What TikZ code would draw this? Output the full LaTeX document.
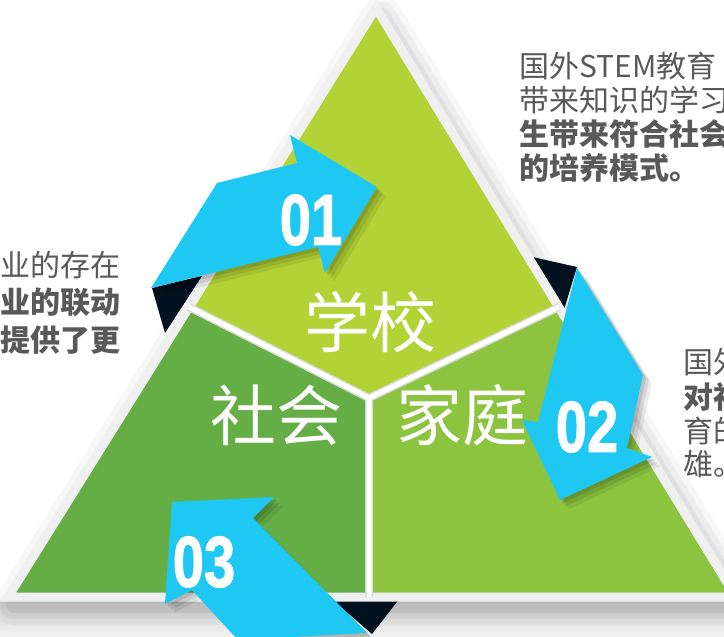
\documentclass[tikz,border=0pt]{standalone}
\usepackage{fontspec}
\setmainfont{Noto Sans CJK SC}
\newfontfamily\numfont[FakeBold=1.5]{Liberation Sans Bold}
\definecolor{topgreen}{HTML}{B2D235}
\definecolor{leftgreen}{HTML}{65AE46}
\definecolor{rightgreen}{HTML}{8CC43F}
\definecolor{arrowblue}{HTML}{1FC8F2}
\definecolor{darknavy}{HTML}{04111E}
\definecolor{textgrey}{HTML}{595959}
\begin{document}
\begin{tikzpicture}[x=1pt, y=-1pt,
    sidetext/.style={text=textgrey, font=\fontsize{30}{34}\selectfont, inner sep=0pt},
    boldtext/.style={sidetext, font=\fontsize{30}{34}\selectfont\bfseries},
    bigword/.style={text=white, font=\fontsize{66}{66}\selectfont, inner sep=0pt},
    stepnum/.style={text=white, font=\numfont\fontsize{72}{72}\selectfont, xscale=0.78, inner sep=0pt},
    gapgrey/.style={draw=gray!30, line width=8pt},
    gapwhite/.style={draw=white, line width=5pt}]
    \useasboundingbox (0,0) rectangle (724,637);
    \clip (0,0) rectangle (724,637);
    \fill[white] (0,0) rectangle (724,637);

    \coordinate (apex) at (376,8);
    \coordinate (bl) at (8,597);
    \coordinate (br) at (736,597);
    \coordinate (ctr) at (369,398);
    \coordinate (lsplit) at (189,307);
    \coordinate (rsplit) at (559,307);
    \coordinate (bsplit) at (369,597);

    % soft shadow round the triangle
    \shade[top color=gray!35, bottom color=gray!10] (0,600) rectangle (724,637);
    \foreach \w/\o in {40/0.03, 28/0.04, 16/0.05}
        \draw[black, opacity=\o, line width=\w pt, line join=round] (382,16) -- (742,605) -- (14,605) -- cycle;

    % dark folds behind the arrows
    \fill[darknavy] (152,288) -- (202,276) -- (165,333) -- cycle;
    \fill[darknavy] (528,256) -- (577,267) -- (563,313) -- cycle;
    \fill[darknavy] (333,600) -- (400,598) -- (372,634) -- cycle;

    % the three parts
    \fill[topgreen] (apex) -- (rsplit) -- (ctr) -- (lsplit) -- cycle;
    \fill[leftgreen] (lsplit) -- (ctr) -- (bsplit) -- (bl) -- cycle;
    \fill[rightgreen] (rsplit) -- (br) -- (bsplit) -- (ctr) -- cycle;
    \draw[gray!12, line width=9pt] (apex) -- (br) -- (bl) -- cycle;
    \draw[gapgrey] (lsplit) -- (ctr) -- (rsplit) (ctr) -- (bsplit);
    \draw[gapwhite] (lsplit) -- (ctr) -- (rsplit) (ctr) -- (bsplit);

    \node[bigword] (school) at (370,322) {学校};
    \node[bigword] (society) at (276,415) {社会};
    \node[bigword] (family) at (462,415) {家庭};

    % arrows with their shadows
    \foreach \s/\c/\o in {9/black/0.07, 6/black/0.09, 3/black/0.11, 0/arrowblue/1}
        \fill[\c, opacity=\o, shift={(\s,\s)}] (151,288) -- (217,183) -- (297,163) -- (290,135) -- (377,187) -- (325,273) -- (318,247) -- cycle;
    \foreach \s/\c/\o in {9/black/0.07, 6/black/0.09, 3/black/0.11, 0/arrowblue/1}
        \fill[\c, opacity=\o, shift={(\s,\s)}] (577,268) -- (643,375) -- (627,448) -- (652,457) -- (560,500) -- (522,420) -- (538,422) -- cycle;
    \foreach \s/\c/\o in {9/black/0.07, 6/black/0.09, 3/black/0.11, 0/arrowblue/1}
        \fill[\c, opacity=\o, shift={(\s,\s)}] (172,502) -- (274,497) -- (253,518) -- (367,633) -- (238,640) -- (192,590) -- (165,604) -- cycle;

    \node[stepnum] (num1) at (311,220) {01};
    \node[stepnum] (num2) at (587,427) {02};
    \node[stepnum] (num3) at (204,562) {03};

    % side texts
    \node[sidetext, anchor=base west] (topline1) at (519,77) {国外STEM教育};
    \node[sidetext, anchor=base west] (topline2) at (519,111) {带来知识的学习};
    \node[boldtext, anchor=base west] (topline3) at (519,145) {生带来符合社会};
    \node[boldtext, anchor=base west] (topline4) at (519,179) {的培养模式。};

    \node[sidetext, anchor=base east] (leftline1) at (121,276) {业的存在};
    \node[boldtext, anchor=base east] (leftline2) at (121,313) {业的联动};
    \node[boldtext, anchor=base east] (leftline3) at (121,351) {提供了更};

    \node[sidetext, anchor=base west] (rightline1) at (683,373) {国外};
    \node[boldtext, anchor=base west] (rightline2) at (683,408) {对社};
    \node[sidetext, anchor=base west] (rightline3) at (683,442) {育的};
    \node[sidetext, anchor=base west] (rightline4) at (683,475) {雄。};
\end{tikzpicture}
\end{document}
